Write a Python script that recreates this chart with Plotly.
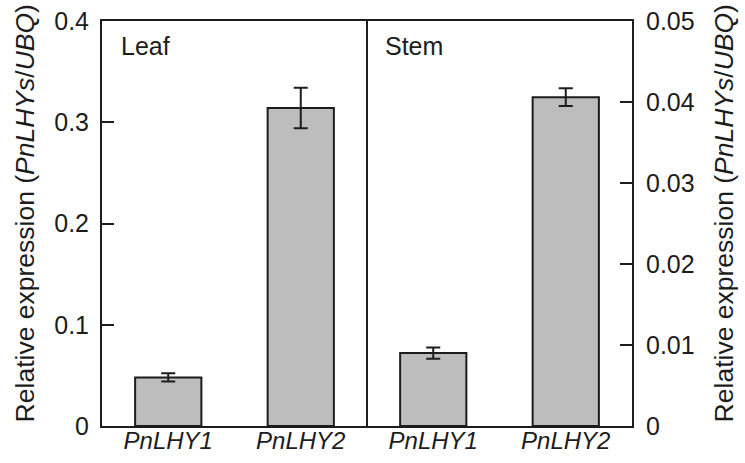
import plotly.graph_objects as go

# ---- data ----
genes = ["PnLHY1", "PnLHY2"]
tissues = ["Leaf", "Stem"]
leaf_values = [0.048, 0.314]
leaf_errors = [0.004, 0.020]
stem_values = [0.0090, 0.0406]
stem_errors = [0.0007, 0.0011]
left_ticks = [0, 0.1, 0.2, 0.3, 0.4]
right_ticks = [0, 0.01, 0.02, 0.03, 0.04, 0.05]

leaf_x = list(range(len(genes)))
stem_x = [len(genes) + i for i in range(len(genes))]
divider_x = (leaf_x[-1] + stem_x[0]) / 2

FONT = "Liberation Sans, Arial, sans-serif"
INK = "#1c1c1c"
BAR = "#bdbdbd"

fig = go.Figure()
fig.add_trace(go.Bar(
    x=leaf_x, y=leaf_values, width=0.5, name="Leaf",
    marker=dict(color=BAR, line=dict(color=INK, width=2)),
    error_y=dict(type="data", array=leaf_errors, visible=True,
                 color=INK, thickness=2, width=7),
    yaxis="y", showlegend=False,
))
fig.add_trace(go.Bar(
    x=stem_x, y=stem_values, width=0.5, name="Stem",
    marker=dict(color=BAR, line=dict(color=INK, width=2)),
    error_y=dict(type="data", array=stem_errors, visible=True,
                 color=INK, thickness=2, width=7),
    yaxis="y2", showlegend=False,
))

title_text = "Relative expression (<i>PnLHYs</i>/<i>UBQ</i>)"

fig.update_layout(
    width=745, height=463,
    margin=dict(l=102, r=113, t=21, b=37, pad=0, autoexpand=False),
    paper_bgcolor="white", plot_bgcolor="white",
    barmode="overlay",
    font=dict(family=FONT, size=25, color=INK),
    xaxis=dict(
        range=[-0.5, 3.5], automargin=False,
        tickvals=leaf_x + stem_x,
        ticktext=[f"<i>{g}</i>" for g in genes + genes],
        ticks="", showgrid=False, zeroline=False,
        showline=True, mirror=True, linecolor=INK, linewidth=2,
        ticklabelstandoff=-8,
        tickfont=dict(size=24, family=FONT, color=INK),
    ),
    yaxis=dict(
        range=[0, 0.4], tickvals=left_ticks, automargin=False,
        ticktext=[f"{v:g}" for v in left_ticks],
        ticks="inside", ticklen=12, tickwidth=2, tickcolor=INK,
        showgrid=False, zeroline=False,
        showline=True, linecolor=INK, linewidth=2,
        ticklabelstandoff=6,
        tickfont=dict(size=25, family=FONT, color=INK),
    ),
    yaxis2=dict(
        range=[0, 0.05], tickvals=right_ticks, automargin=False,
        ticktext=[f"{v:g}" for v in right_ticks],
        overlaying="y", side="right",
        ticks="inside", ticklen=12, tickwidth=2, tickcolor=INK,
        showgrid=False, zeroline=False,
        showline=True, linecolor=INK, linewidth=2,
        ticklabelstandoff=7,
        tickfont=dict(size=25, family=FONT, color=INK),
    ),
)

fig.add_shape(type="line", xref="x", yref="paper",
              x0=divider_x, x1=divider_x, y0=0, y1=1,
              line=dict(color=INK, width=2))

# panel labels
fig.add_annotation(text=tissues[0], xref="paper", yref="paper",
                   x=0.033, y=0.938, xanchor="left", yanchor="middle",
                   showarrow=False, font=dict(size=25, family=FONT, color=INK))
fig.add_annotation(text=tissues[1], xref="paper", yref="paper",
                   x=0.531, y=0.938, xanchor="left", yanchor="middle",
                   showarrow=False, font=dict(size=25, family=FONT, color=INK))

# axis titles
fig.add_annotation(text=title_text, xref="paper", yref="paper",
                   x=(25 - 102) / 530, y=0.525, xanchor="center", yanchor="middle",
                   textangle=-90, showarrow=False,
                   font=dict(size=26.5, family=FONT, color=INK))
fig.add_annotation(text=title_text, xref="paper", yref="paper",
                   x=(724 - 102) / 530, y=0.525, xanchor="center", yanchor="middle",
                   textangle=-90, showarrow=False,
                   font=dict(size=26.5, family=FONT, color=INK))

fig.write_html("out.html")
